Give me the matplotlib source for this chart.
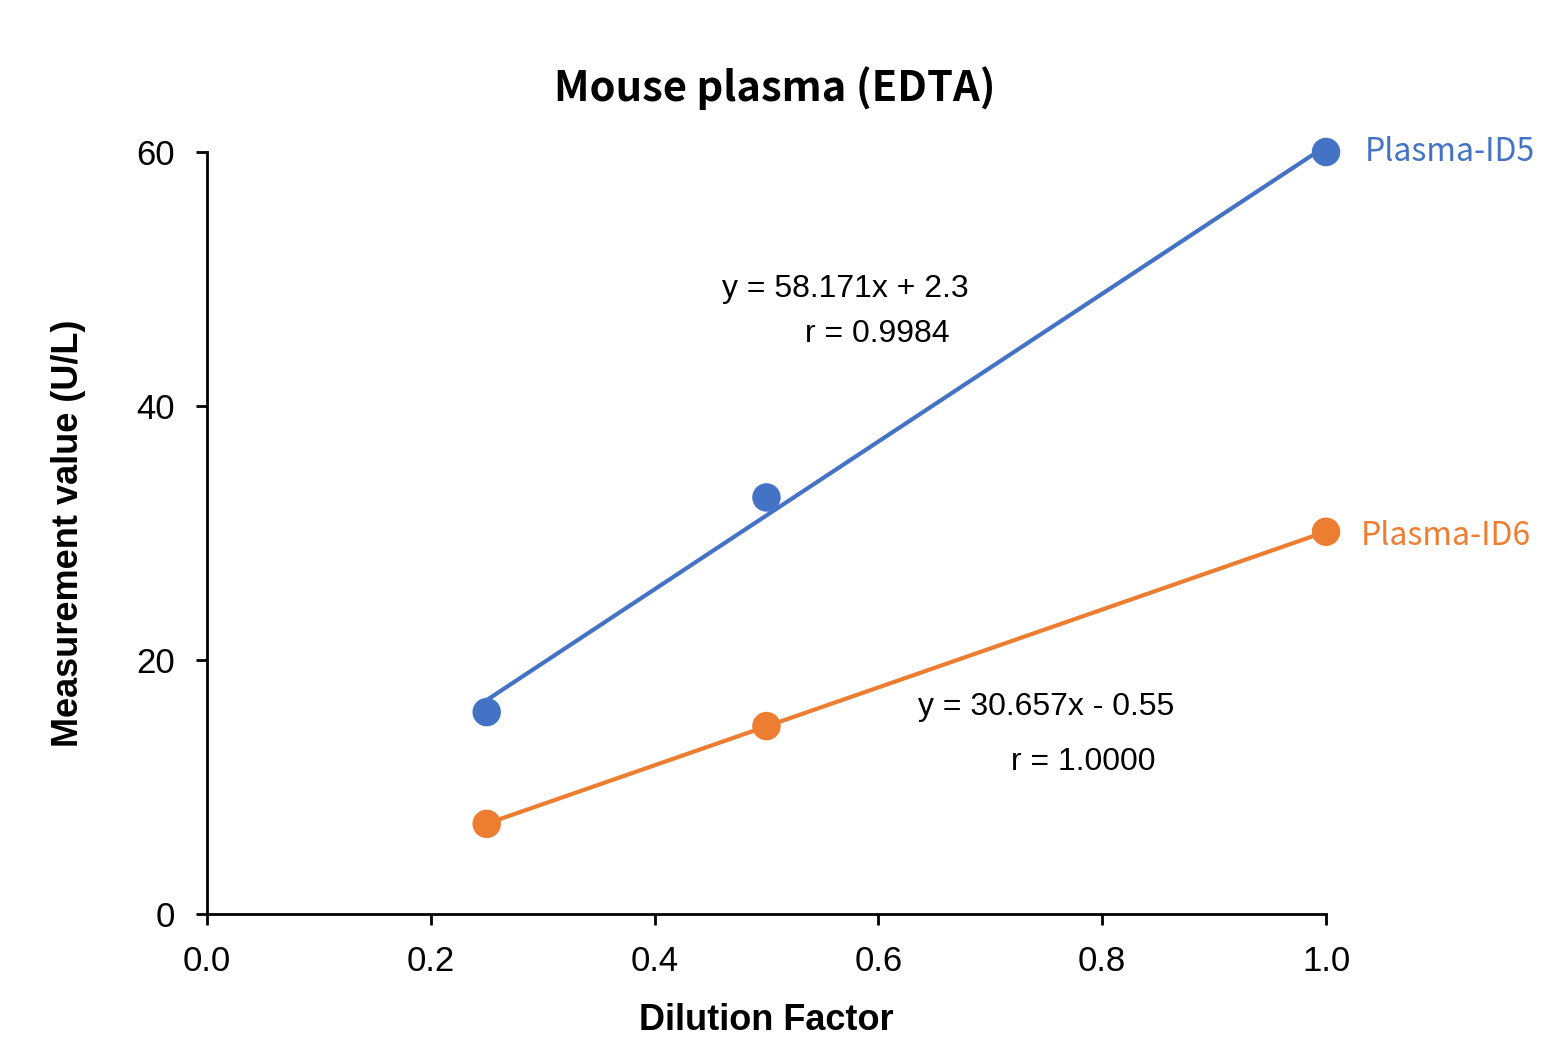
import numpy as np
import matplotlib
matplotlib.use("Agg")
import matplotlib.pyplot as plt

dilution = [0.25, 0.5, 1.0]
id5_values = [15.9, 32.8, 60.0]
id6_values = [7.1, 14.8, 30.1]
series_names = ["Plasma-ID5", "Plasma-ID6"]
eq_lines = ["y = 58.171x + 2.3", "r = 0.9984", "y = 30.657x - 0.55", "r = 1.0000"]
eq_pos = [(0.460, 49.2), (0.534, 45.7), (0.635, 16.3), (0.7185, 11.97)]
x_ticks = [0.0, 0.2, 0.4, 0.6, 0.8, 1.0]
y_ticks = [0, 20, 40, 60]

blue = "#4472C4"
orange = "#ED7D31"
jp = ["Noto Sans CJK JP", "DejaVu Sans"]

fig = plt.figure(figsize=(15.5, 10.6), dpi=100)
ax = fig.add_axes([0.1335, 0.1377, 0.722, 0.7189])

for vals, col in [(id5_values, blue), (id6_values, orange)]:
    x = np.array(dilution)
    y = np.array(vals)
    m, b = np.polyfit(x, y, 1)
    ax.plot(x, m * x + b, color=col, lw=3, zorder=2, clip_on=False)
    ax.scatter(x, y, s=420, color=col, zorder=3, edgecolors="none", clip_on=False)

ax.set_xlim(0, 1.0)
ax.set_ylim(0, 60)
ax.set_xticks(x_ticks)
ax.set_xticklabels([f"{t:.1f}" for t in x_ticks])
ax.set_yticks(y_ticks)
for s in ["top", "right"]:
    ax.spines[s].set_visible(False)
for s in ["left", "bottom"]:
    ax.spines[s].set_linewidth(2)
ax.tick_params(direction="out", length=8, width=2, labelsize=25)
ax.tick_params(axis="y", pad=15)
ax.tick_params(axis="x", pad=14)
for lab in ax.get_xticklabels() + ax.get_yticklabels():
    lab.set_fontfamily("Liberation Sans")

ax.set_xlabel("Dilution Factor", fontsize=26, fontweight="bold", family="Liberation Sans", labelpad=18)
ax.set_ylabel("Measurement value (U/L)", fontsize=26, fontweight="bold", family="Liberation Sans", labelpad=36)

fig.text(0.5, 0.917, "Mouse plasma (EDTA)", ha="center", va="center", fontsize=30,
         family=jp, fontweight="bold")

ax.annotate(series_names[0], xy=(1.0, id5_values[2]), xytext=(28, 0), textcoords="offset points",
            color=blue, fontsize=23, va="center", ha="left", family=jp, annotation_clip=False)
ax.annotate(series_names[1], xy=(1.0, id6_values[2]), xytext=(25, -3), textcoords="offset points",
            color=orange, fontsize=23, va="center", ha="left", family=jp, annotation_clip=False)

for txt, (tx, ty) in zip(eq_lines, eq_pos):
    ax.text(tx, ty, txt, fontsize=23, family="Liberation Sans", va="center", ha="left")

fig.savefig("out.png", dpi=100)
